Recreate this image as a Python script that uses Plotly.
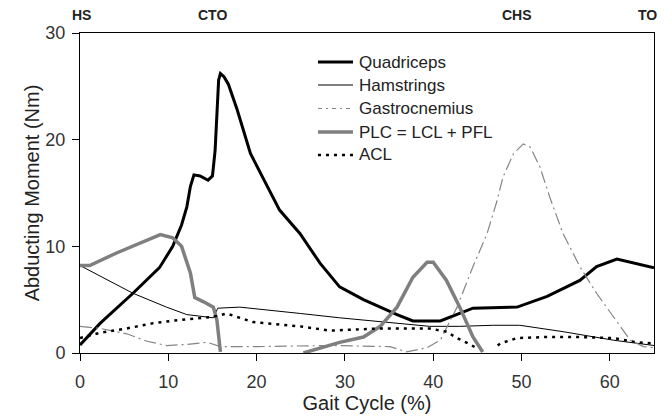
import plotly.graph_objects as go

# Gait cycle (%) and abducting moment (Nm) per structure
quad_x = [0, 2.3, 6, 9, 10.5, 11.5, 12.1, 12.5, 12.9, 13.6, 14.5, 15.0, 15.3, 15.5, 15.7, 15.9, 16.3, 16.8, 17.3, 17.8,
          19.3, 21.2, 22.6, 24.9, 27.2, 29.4, 32.1, 35.9, 37.7, 40.8, 42.7, 44.5, 49.5, 52.9, 56.6, 58.5, 60.8, 63.1, 65]
quad_y = [0.75, 2.8, 5.6, 8.0, 10.0, 12.0, 13.7, 15.6, 16.7, 16.6, 16.2, 16.6, 19.0, 22.8, 25.6, 26.2, 25.9, 25.2, 24.0, 22.8,
          18.7, 15.6, 13.4, 11.2, 8.4, 6.2, 5.0, 3.6, 3.0, 3.0, 3.6, 4.2, 4.3, 5.3, 6.8, 8.1, 8.8, 8.4, 8.0]

ham_x = [0, 3, 6, 9.8, 12.1, 15.1, 15.6, 18.1, 21.9, 25, 29.4, 35.9, 39.6, 43, 46.8, 49.8, 54.7, 60.4, 65]
ham_y = [8.2, 6.9, 5.6, 4.3, 3.6, 3.3, 4.2, 4.3, 4.0, 3.7, 3.3, 2.8, 2.5, 2.5, 2.6, 2.6, 2.0, 1.2, 0.7]

gas_x = [0, 2.3, 5.3, 7.6, 9.8, 12, 14.4, 15.9, 20, 28.3, 35.1, 37, 39.3, 40.8, 42.7, 44.5, 46.1, 47.2, 47.9,
         49.1, 50.2, 51, 52.1, 53.2, 54.7, 56.6, 58.5, 60.4, 62.3, 63.8, 65]
gas_y = [2.5, 2.3, 1.8, 1.1, 0.7, 0.8, 1.0, 0.6, 0.6, 0.7, 0.6, 0.1, 0.5, 1.2, 4.3, 8.1, 11.2, 14.2, 16.5,
         18.7, 19.6, 19.3, 17.4, 14.6, 11.2, 8.1, 5.6, 3.4, 1.2, 0.6, 0.5]

plc_x = [0, 1.1, 4.2, 6.8, 9.1, 10.5, 11.5, 12.5, 13, 14, 15.1, 15.5, 15.9, None,
         25.3, 28.3, 29.4, 32.1, 34, 35.9, 37.7, 39.3, 40, 41.5, 43, 44.5, 45.6]
plc_y = [8.2, 8.2, 9.4, 10.3, 11.1, 10.8, 10.0, 7.5, 5.2, 4.8, 4.3, 3.1, 0.1, None,
         0.0, 0.7, 1.0, 1.5, 2.5, 4.3, 7.1, 8.5, 8.5, 6.8, 4.3, 1.5, 0.1]

acl_x = [0, 2.3, 5.3, 8.3, 11.3, 15.1, 16.6, 19.6, 24.9, 28.3, 34, 39.6, 41.5, 42.7, 44.2, 44.8, None,
         47.3, 47.6, 49.5, 52.9, 56.6, 60.4, 63.1, 65]
acl_y = [1.4, 1.9, 2.3, 2.8, 3.1, 3.4, 3.7, 2.9, 2.5, 2.1, 2.3, 2.3, 2.0, 1.4, 0.8, 0.5, None,
         0.7, 0.9, 1.4, 1.5, 1.5, 1.4, 1.0, 0.9]

series_names = ["Quadriceps", "Hamstrings", "Gastrocnemius", "PLC = LCL + PFL", "ACL"]

x_ticks = [0, 10, 20, 30, 40, 50, 60]
y_ticks = [0, 10, 20, 30]

event_x = [0.2, 15, 49.5, 64.3]
event_labels = ["HS", "CTO", "CHS", "TO"]

FONT = "Liberation Sans, Arial, sans-serif"

styles = [
    dict(color="black", width=3),
    dict(color="black", width=1),
    dict(color="#858585", width=1.2, dash="12px,4px,2px,4px"),
    dict(color="#7f7f7f", width=3.5),
    dict(color="black", width=2.5, dash="3px,5px"),
]
xs = [quad_x, ham_x, gas_x, plc_x, acl_x]
ys = [quad_y, ham_y, gas_y, plc_y, acl_y]

fig = go.Figure()
for name, x, y, st in zip(series_names, xs, ys, styles):
    fig.add_trace(go.Scatter(x=x, y=y, mode="lines", name=name, line=st,
                             connectgaps=False, showlegend=False))

# legend drawn manually (paper coordinates)
leg_rows = [0.909, 0.8375, 0.764, 0.6906, 0.619]
leg_styles = [
    dict(color="black", width=3),
    dict(color="black", width=1),
    dict(color="#858585", width=1.2, dash="4px,4px,2px,4px"),
    dict(color="#7f7f7f", width=3.5),
    dict(color="black", width=2.5, dash="3px,5px"),
]
for name, yr, st in zip(series_names, leg_rows, leg_styles):
    fig.add_shape(type="line", xref="paper", yref="paper", x0=0.4146, x1=0.4756, y0=yr, y1=yr,
                  line=st)
    fig.add_annotation(x=0.4826, y=yr, xref="paper", yref="paper", xanchor="left", yanchor="middle",
                       text=name, showarrow=False, font=dict(family=FONT, size=17, color="#222"))

for xv, lab in zip(event_x, event_labels):
    fig.add_annotation(x=xv, y=1.0, xref="x", yref="paper", yanchor="middle", yshift=18,
                       text="<b>" + lab + "</b>",
                       showarrow=False, font=dict(family=FONT, size=14, color="#222"))

fig.update_layout(
    width=671, height=417,
    margin=dict(l=80, r=17, t=33, b=64),
    plot_bgcolor="white", paper_bgcolor="white",
    font=dict(family=FONT, size=17, color="#222"),
    showlegend=False,
    xaxis=dict(range=[0, 65], tickvals=x_ticks, showgrid=False, zeroline=False,
               showline=True, linecolor="black", linewidth=1, mirror=True,
               ticks="outside", ticklen=7, tickcolor="black", automargin=False,
               tickfont=dict(size=18, color="#333"), ticklabelstandoff=5,
               title=dict(text="Gait Cycle (%)", standoff=2)),
    yaxis=dict(range=[0, 30], tickvals=y_ticks, showgrid=False, zeroline=False,
               showline=True, linecolor="black", linewidth=1, mirror=True,
               ticks="outside", ticklen=7, tickcolor="black", automargin=False,
               tickfont=dict(size=18, color="#333"), ticklabelstandoff=3,
               title=dict(text="Abducting Moment (Nm)", standoff=0)),
)

fig.write_html("out.html")
